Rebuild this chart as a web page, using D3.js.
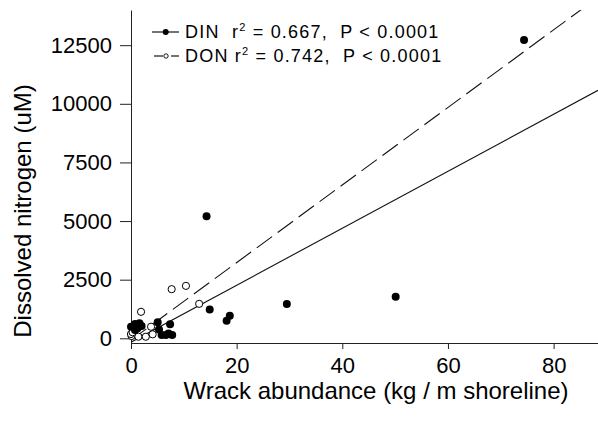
<!DOCTYPE html>
<html>
<head>
<meta charset="utf-8">
<script src="https://cdn.jsdelivr.net/npm/d3@7"></script>
<style>
  body { margin: 0; background: #fff; }
  svg text { font-family: Arial, "Liberation Sans", sans-serif; fill: #000; }
</style>
</head>
<body>
<div id="chart"></div>
<script>
// Data
var dinX = [74.4, 14.3, 50.1, 29.5, 14.9, 18.7, 18.1, 7.4, 5.05, 5.3, 0.0, 0.76, 1.6, 2.0, 0.76, 5.8, 6.6, 7.8, 7.1, 1.2];
var dinY = [12720, 5210, 1768, 1458, 1232, 960, 748, 600, 690, 380, 490, 608, 637, 523, 353, 140, 140, 140, 210, 420];
var donX = [10.4, 7.7, 12.9, 1.9, 3.8, 0.1, 1.4, 2.8, 4.1, 0.0, 0.3];
var donY = [2236, 2095, 1470, 1130, 493, 98, 68, 68, 170, 183, 260];

// regression fits
var fitNames = ['DIN', 'DON'];
var fitSlope = [121.5, 165.4];
var fitIntercept = [-166, -79];
var fitR2 = ['0.667', '0.742'];
var fitP = ['P < 0.0001', 'P < 0.0001'];

var xTicks = [0, 20, 40, 60, 80];
var yTicks = [0, 2500, 5000, 7500, 10000, 12500];

var chartWidth = 598;
var chartHeight = 429;
var margin = { left: 131, top: 10, right: 0, bottom: 86 };

var xScale = d3.scaleLinear()
  .domain([0, 88.4])
  .range([margin.left, chartWidth - margin.right]);

var yScale = d3.scaleLinear()
  .domain([-200, 14000])
  .range([chartHeight - margin.bottom, margin.top]);

var svg = d3.select('#chart')
  .append('svg')
  .attr('width', chartWidth)
  .attr('height', chartHeight);

svg.append('clipPath')
  .attr('id', 'plot-clip')
  .append('rect')
  .attr('x', margin.left)
  .attr('y', margin.top)
  .attr('width', chartWidth - margin.left - margin.right)
  .attr('height', chartHeight - margin.top - margin.bottom);

// Axes
svg.append('g')
  .attr('transform', 'translate(0,' + (chartHeight - margin.bottom) + ')')
  .call(d3.axisBottom(xScale).tickValues(xTicks).tickFormat(d3.format('d'))
    .tickSize(6).tickPadding(8).tickSizeOuter(0));

svg.append('g')
  .attr('transform', 'translate(' + margin.left + ',0)')
  .call(d3.axisLeft(yScale).tickValues(yTicks).tickFormat(d3.format('d'))
    .tickSize(11).tickPadding(8).tickSizeOuter(0));

svg.selectAll('.tick text')
  .style('font-size', '22px')
  .style('font-family', 'Arial, "Liberation Sans", sans-serif');
svg.selectAll('.domain, .tick line').attr('stroke', '#222');

// Regression lines
var lineGroup = svg.append('g').attr('clip-path', 'url(#plot-clip)');
fitNames.forEach(function (name, i) {
  lineGroup.append('line')
    .attr('x1', xScale(0))
    .attr('y1', yScale(fitIntercept[i]))
    .attr('x2', xScale(88.4))
    .attr('y2', yScale(fitSlope[i] * 88.4 + fitIntercept[i]))
    .attr('stroke', '#111')
    .attr('stroke-width', 1.1)
    .attr('stroke-dasharray', i === 1 ? '19,7' : null);
});

// Points
svg.append('g').selectAll('circle')
  .data(donX)
  .enter()
  .append('circle')
  .attr('cx', function (d) { return xScale(d); })
  .attr('cy', function (d, i) { return yScale(donY[i]); })
  .attr('r', 3.6)
  .attr('fill', '#fff')
  .attr('stroke', '#000')
  .attr('stroke-width', 1);

svg.append('g').selectAll('circle')
  .data(dinX)
  .enter()
  .append('circle')
  .attr('cx', function (d) { return xScale(d); })
  .attr('cy', function (d, i) { return yScale(dinY[i]); })
  .attr('r', 4)
  .attr('fill', '#000');

// Axis titles
svg.append('text')
  .attr('x', 376)
  .attr('y', 399)
  .attr('text-anchor', 'middle')
  .style('font-size', '24px')
  .text('Wrack abundance (kg / m shoreline)');

svg.append('text')
  .attr('transform', 'translate(31,211) rotate(-90)')
  .attr('text-anchor', 'middle')
  .style('font-size', '24px')
  .text('Dissolved nitrogen (uM)');

// Legend
var legend = svg.append('g');
var legendY = [32, 56];
var legendGap = ['\u00a0\u00a0', '\u00a0'];
fitNames.forEach(function (name, i) {
  var y = legendY[i];
  if (i === 0) {
    legend.append('line').attr('x1', 152).attr('x2', 179).attr('y1', y).attr('y2', y)
      .attr('stroke', '#000').attr('stroke-width', 1.1);
    legend.append('circle').attr('cx', 165.7).attr('cy', y).attr('r', 3).attr('fill', '#000');
  } else {
    legend.append('line').attr('x1', 154).attr('x2', 163).attr('y1', y).attr('y2', y)
      .attr('stroke', '#000').attr('stroke-width', 1.1);
    legend.append('line').attr('x1', 171).attr('x2', 179).attr('y1', y).attr('y2', y)
      .attr('stroke', '#000').attr('stroke-width', 1.1);
    legend.append('circle').attr('cx', 166).attr('cy', y).attr('r', 2.2)
      .attr('fill', '#fff').attr('stroke', '#000').attr('stroke-width', 0.9);
  }
  var t = legend.append('text')
    .attr('x', 185)
    .attr('y', y + 6)
    .style('font-size', '18px')
    .style('letter-spacing', '1.2px');
  t.append('tspan').text(name + legendGap[i] + 'r');
  t.append('tspan').attr('dy', -7).style('font-size', '11px').text('2');
  t.append('tspan').attr('dy', 7).text(' = ' + fitR2[i] + ',\u00a0\u00a0' + fitP[i]);
});
</script>
</body>
</html>
